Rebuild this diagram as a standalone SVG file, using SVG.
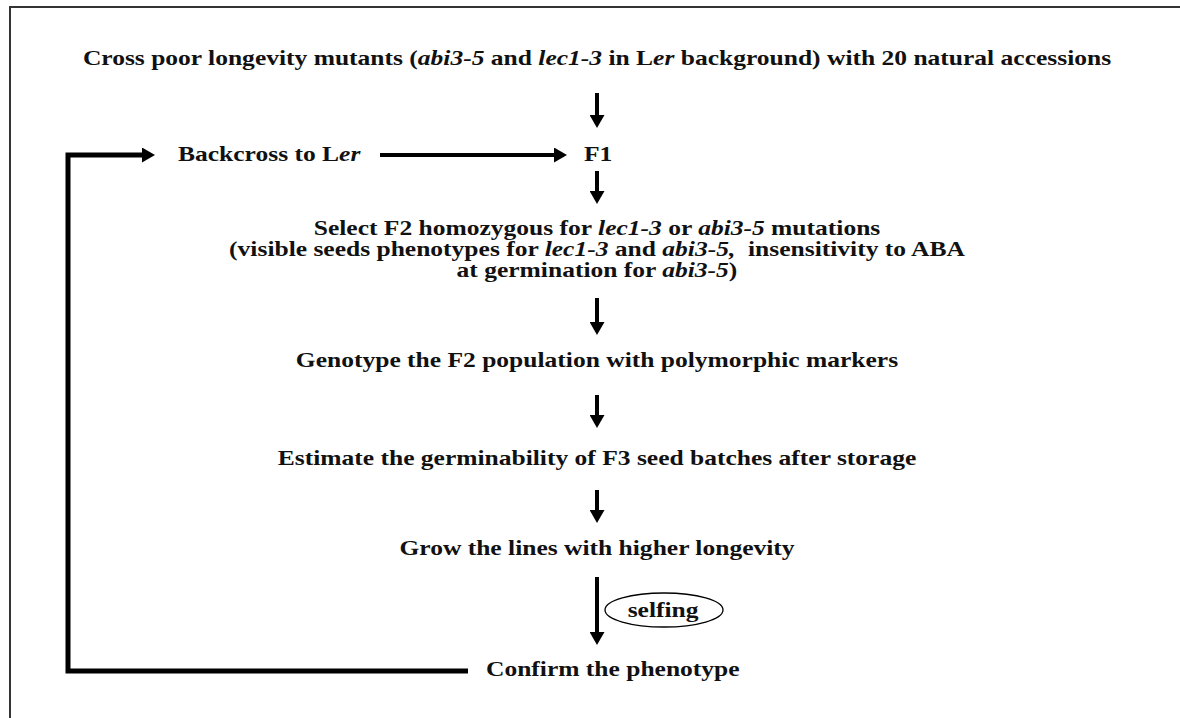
<svg xmlns="http://www.w3.org/2000/svg" width="1180" height="718" viewBox="0 0 1180 718">
<style>
  text { font-family: "Liberation Serif", "Times New Roman", serif; font-weight: bold; font-size: 22px; fill: #111; }
  .c { text-anchor: middle; }
  .i { font-style: italic; }
  .arr { stroke: #000; stroke-width: 4; fill: none; marker-end: url(#ah); }
  .loop { stroke: #000; stroke-width: 5; fill: none; stroke-linejoin: miter; }
</style>
<defs>
  <marker id="ah" markerUnits="userSpaceOnUse" viewBox="0 0 13 15" markerWidth="13" markerHeight="15" refX="7" refY="7.5" orient="auto">
    <path d="M0,0 L13,7.5 L0,15 Z" fill="#000"/>
  </marker>
</defs>
<rect width="1180" height="718" fill="#fff"/>
<path d="M10,718 V7 H1180" fill="none" stroke="#333" stroke-width="2"/>

<g id="connectors">
  <line class="arr" x1="597" y1="93" x2="597" y2="122"/>
  <line class="arr" x1="380" y1="155" x2="561" y2="155"/>
  <path class="loop" d="M468,671 H68 V155 H149" marker-end="url(#ah)"/>
  <line class="arr" x1="597" y1="171" x2="597" y2="198"/>
  <line class="arr" x1="597" y1="298" x2="597" y2="329"/>
  <line class="arr" x1="597" y1="395" x2="597" y2="422"/>
  <line class="arr" x1="597" y1="490" x2="597" y2="517"/>
  <line class="arr" x1="597" y1="577" x2="597" y2="639"/>
</g>

<g id="selfing">
  <ellipse cx="664" cy="610" rx="59" ry="17" fill="none" stroke="#000" stroke-width="1.3"/>
</g>

<g transform="matrix(1.16 0 0 1 -95.52 0)">
  <g id="cross">
    <text class="c" x="597" y="65">Cross poor longevity mutants (<tspan class="i">abi3-5</tspan> and <tspan class="i">lec1-3</tspan> in L<tspan class="i">er</tspan> background) with 20 natural accessions</text>
  </g>
  <g id="backcross">
    <text x="235.8" y="161">Backcross to L<tspan class="i">er</tspan></text>
  </g>
  <g id="f1">
    <text x="585.8" y="161">F1</text>
  </g>
  <g id="select">
    <text class="c" x="597" y="235">Select F2 homozygous for <tspan class="i">lec1-3</tspan> or <tspan class="i">abi3-5</tspan> mutations</text>
    <text class="c" x="597" y="256" xml:space="preserve">(visible seeds phenotypes for <tspan class="i">lec1-3</tspan> and <tspan class="i">abi3-5,</tspan>  insensitivity to ABA</text>
    <text class="c" x="597" y="277">at germination for <tspan class="i">abi3-5</tspan>)</text>
  </g>
  <g id="genotype">
    <text class="c" x="597" y="367">Genotype the F2 population with polymorphic markers</text>
  </g>
  <g id="estimate">
    <text class="c" x="597" y="465">Estimate the germinability of F3 seed batches after storage</text>
  </g>
  <g id="grow">
    <text class="c" x="597" y="555">Grow the lines with higher longevity</text>
  </g>
  <g id="selfing-label">
    <text class="c" x="654" y="617">selfing</text>
  </g>
  <g id="confirm">
    <text x="501.3" y="676">Confirm the phenotype</text>
  </g>
</g>
</svg>
